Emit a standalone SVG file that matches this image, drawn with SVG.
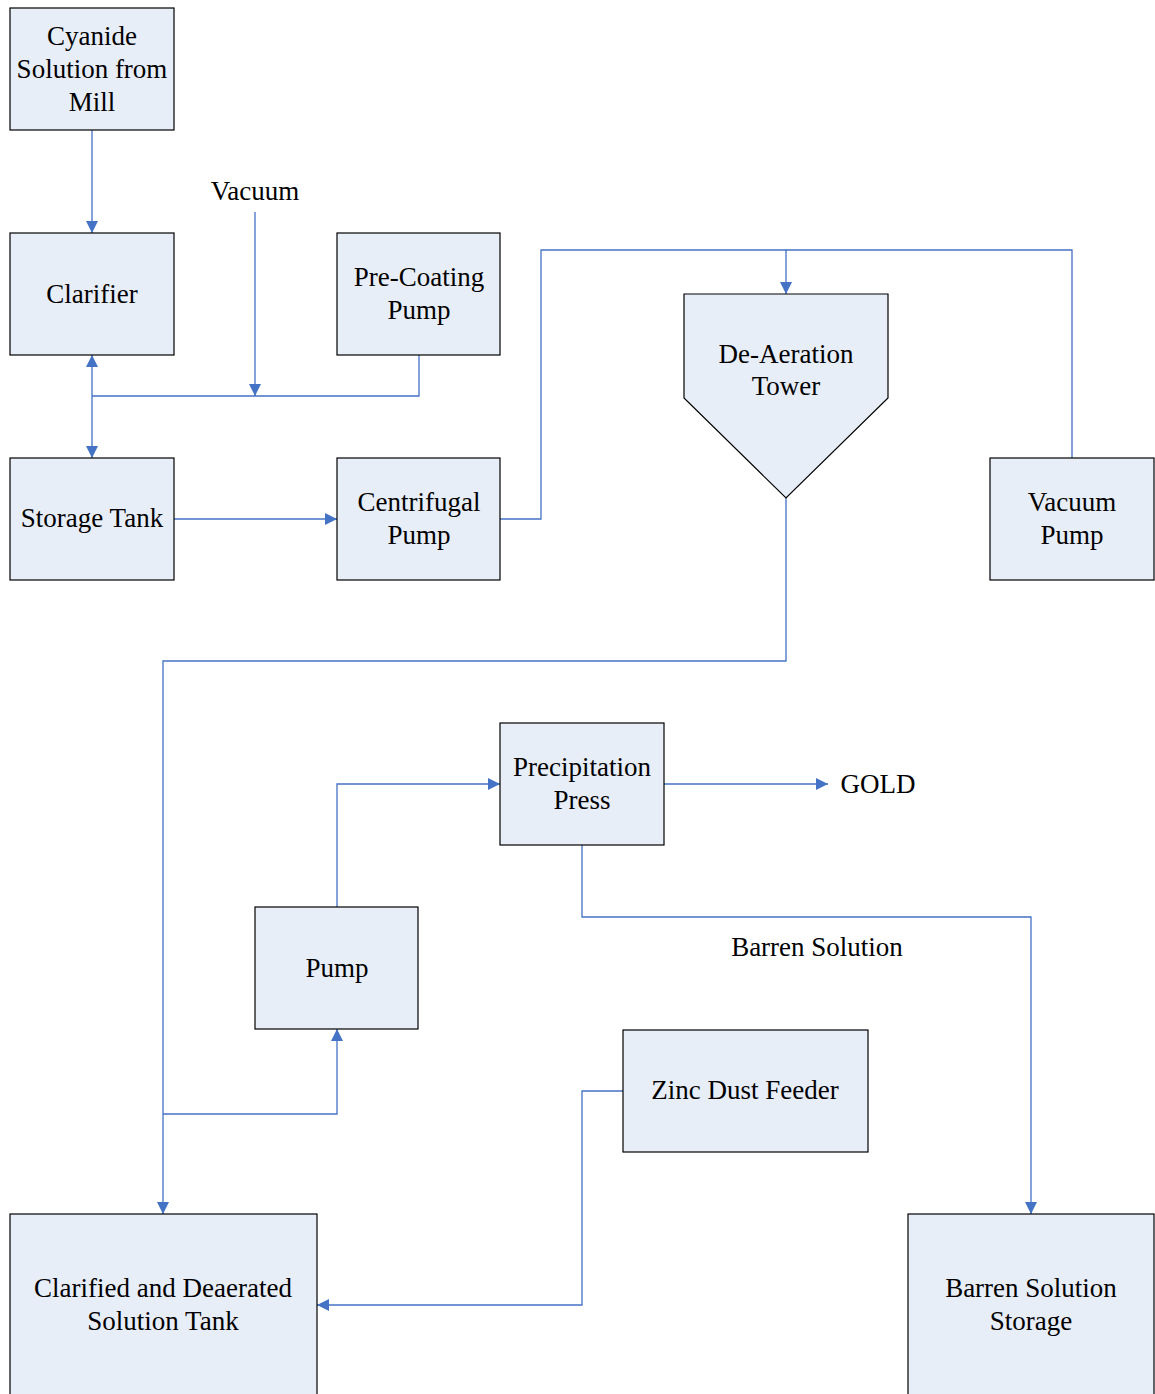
<svg xmlns="http://www.w3.org/2000/svg" width="1155" height="1394" viewBox="0 0 1155 1394">
<style>
.n{fill:#E8EEF8;stroke:#000;stroke-width:1.2}
.t{font-family:"Liberation Serif","Times New Roman",serif;font-size:27px;fill:#000;text-anchor:middle}
.c{fill:none;stroke:#4472C4;stroke-width:1.3}
</style>
<defs>
<marker id="a" viewBox="0 0 12 12" refX="12" refY="6" markerWidth="12" markerHeight="12" markerUnits="userSpaceOnUse" orient="auto-start-reverse">
<path d="M0,0 L12,6 L0,12 Z" fill="#4472C4"/>
</marker>
</defs>
<rect width="1155" height="1394" fill="#fff"/>
<g id="connectors">
<path class="c" d="M92,130 V233" marker-end="url(#a)"/>
<path class="c" d="M255,212 V396" marker-end="url(#a)"/>
<path class="c" d="M419,355 V396 H92"/>
<path class="c" d="M92,396 V355" marker-end="url(#a)"/>
<path class="c" d="M92,396 V458" marker-end="url(#a)"/>
<path class="c" d="M174,519 H337" marker-end="url(#a)"/>
<path class="c" d="M500,519 H541 V250 H786 V294" marker-end="url(#a)"/>
<path class="c" d="M1072,458 V250 H786"/>
<path class="c" d="M786,498 V661 H163 V1214" marker-end="url(#a)"/>
<path class="c" d="M163,1114 H337 V1029" marker-end="url(#a)"/>
<path class="c" d="M337,907 V784 H500" marker-end="url(#a)"/>
<path class="c" d="M664,784 H828" marker-end="url(#a)"/>
<path class="c" d="M582,845 V917 H1031 V1214" marker-end="url(#a)"/>
<path class="c" d="M623,1091 H582 V1305 H317" marker-end="url(#a)"/>
</g>
<g id="cyanide"><rect class="n" x="10" y="8" width="164" height="122"/><text class="t" x="92" y="45">Cyanide</text><text class="t" x="92" y="78">Solution from</text><text class="t" x="92" y="111">Mill</text></g>
<g id="clarifier"><rect class="n" x="10" y="233" width="164" height="122"/><text class="t" x="92" y="303">Clarifier</text></g>
<g id="precoating"><rect class="n" x="337" y="233" width="163" height="122"/><text class="t" x="419" y="286">Pre-Coating</text><text class="t" x="419" y="319">Pump</text></g>
<g id="vacuum-label"><text class="t" x="255" y="200">Vacuum</text></g>
<g id="storage"><rect class="n" x="10" y="458" width="164" height="122"/><text class="t" x="92" y="527">Storage Tank</text></g>
<g id="centrifugal"><rect class="n" x="337" y="458" width="163" height="122"/><text class="t" x="419" y="511">Centrifugal</text><text class="t" x="419" y="544">Pump</text></g>
<g id="tower"><path class="n" d="M684,294 H888 V398 L786,498 L684,398 Z"/><text class="t" x="786" y="363">De-Aeration</text><text class="t" x="786" y="395">Tower</text></g>
<g id="vacuum-pump"><rect class="n" x="990" y="458" width="164" height="122"/><text class="t" x="1072" y="511">Vacuum</text><text class="t" x="1072" y="544">Pump</text></g>
<g id="press"><rect class="n" x="500" y="723" width="164" height="122"/><text class="t" x="582" y="776">Precipitation</text><text class="t" x="582" y="809">Press</text></g>
<g id="gold"><text class="t" x="878" y="793">GOLD</text></g>
<g id="barren-label"><text class="t" x="817" y="956">Barren Solution</text></g>
<g id="pump"><rect class="n" x="255" y="907" width="163" height="122"/><text class="t" x="337" y="977">Pump</text></g>
<g id="zinc"><rect class="n" x="623" y="1030" width="245" height="122"/><text class="t" x="745" y="1099">Zinc Dust Feeder</text></g>
<g id="clarified-tank"><rect class="n" x="10" y="1214" width="307" height="200"/><text class="t" x="163" y="1297">Clarified and Deaerated</text><text class="t" x="163" y="1330">Solution Tank</text></g>
<g id="barren-storage"><rect class="n" x="908" y="1214" width="246" height="200"/><text class="t" x="1031" y="1297">Barren Solution</text><text class="t" x="1031" y="1330">Storage</text></g>
</svg>
